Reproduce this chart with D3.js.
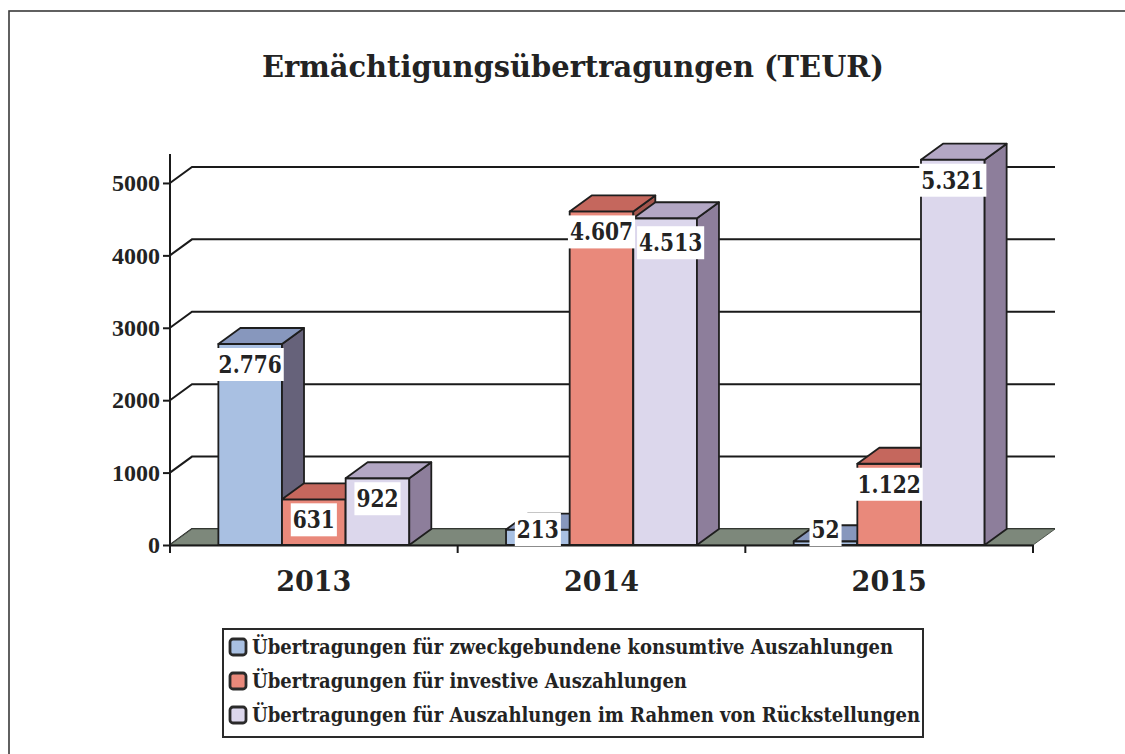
<!DOCTYPE html>
<html>
<head>
<meta charset="utf-8">
<script src="https://cdn.jsdelivr.net/npm/d3@7/dist/d3.min.js"></script>
<style>
  body { margin: 0; background: #fff; }
  text { fill: #232323; }
</style>
</head>
<body>
<svg id="chart" width="1125" height="754"></svg>
<script>
var years = ["2013", "2014", "2015"];
var seriesNames = [
  "Übertragungen für zweckgebundene konsumtive Auszahlungen",
  "Übertragungen für investive Auszahlungen",
  "Übertragungen für Auszahlungen im Rahmen von Rückstellungen"
];
var consumptive = [2776, 213, 52];
var investive = [631, 4607, 1122];
var provisions = [922, 4513, 5321];
var yTicks = [0, 1000, 2000, 3000, 4000, 5000];

// front, top, side
var colors = [
  ["#a9c0e2", "#8797bd", "#66627a"],
  ["#e9897b", "#c5675d", "#a4554d"],
  ["#dcd7ec", "#b3a7c4", "#8d7e9b"]
];

var series = [consumptive, investive, provisions];
var de = d3.formatLocale({ decimal: ",", thousands: ".", grouping: [3], currency: ["", " €"] });
var fmt = de.format(",");

var svg = d3.select("#chart");
var serif = "'DejaVu Serif', serif";
var dx = 22, dy = 16;

var x0 = d3.scaleBand().domain(years).range([170, 1033]);
var x1 = d3.scaleBand().domain(d3.range(series.length)).range([0, x0.bandwidth()]).paddingOuter(0.76);
var y = d3.scaleLinear().domain([0, 5400]).range([545, 154]);
var y0 = y(0);
var xLeft = x0.range()[0], xRight = x0.range()[1];

function poly(pts) {
  return "M" + pts.map(function (p) { return p[0] + "," + p[1]; }).join("L") + "Z";
}

// outer frame, cut by the page edge like the scan
svg.append("rect")
  .attr("x", 9).attr("y", 11).attr("width", 1200).attr("height", 900)
  .attr("fill", "none").attr("stroke", "#3a3a3a").attr("stroke-width", 1.6);

var title = svg.append("text")
  .attr("x", 573).attr("y", 77)
  .attr("text-anchor", "middle")
  .style("font-family", serif).style("font-weight", "bold").style("font-size", "29px")
  .text("Ermächtigungsübertragungen (TEUR)");
title.attr("textLength", 622).attr("lengthAdjust", "spacingAndGlyphs");

// back wall grid with the diagonal tick connectors
var grid = svg.append("g").attr("stroke", "#1a1a1a").attr("stroke-width", 2).attr("fill", "none");
yTicks.forEach(function (v) {
  grid.append("path").attr("d", "M" + xLeft + "," + y(v) + "L" + (xLeft + dx) + "," + (y(v) - dy)
    + "L" + (xRight + dx) + "," + (y(v) - dy));
});

// floor
svg.append("path")
  .attr("d", poly([[xLeft, y0], [xRight, y0], [xRight + dx, y0 - dy], [xLeft + dx, y0 - dy]]))
  .attr("fill", "#7d887b").attr("stroke", "#4d544b").attr("stroke-width", 1);

// y axis
var yAxis = svg.append("g")
  .attr("transform", "translate(" + xLeft + ",0)")
  .call(d3.axisLeft(y).tickValues(yTicks).tickFormat(d3.format("d")).tickSize(7).tickPadding(3).tickSizeOuter(0));
yAxis.select(".domain").remove();
yAxis.selectAll("line").attr("stroke", "#1a1a1a").attr("stroke-width", 2);
yAxis.selectAll("text")
  .style("font-family", "'Liberation Serif', serif").style("font-weight", "bold").style("font-size", "24px")
  .attr("fill", "#232323");

svg.append("line")
  .attr("x1", xLeft).attr("x2", xLeft).attr("y1", y.range()[1]).attr("y2", y0 + 8)
  .attr("stroke", "#1a1a1a").attr("stroke-width", 2);

// x axis line with ticks on the category borders
var xAxis = svg.append("g")
  .attr("transform", "translate(0," + y0 + ")")
  .call(d3.axisBottom(x0).tickSize(0).tickPadding(27));
xAxis.select(".domain").attr("stroke", "#1a1a1a").attr("stroke-width", 2);
xAxis.selectAll("text")
  .style("font-family", serif).style("font-weight", "bold").style("font-size", "27px")
  .attr("fill", "#232323");
xAxis.selectAll(".border").data(years.map(x0).concat([xRight]))
  .enter().append("line").attr("class", "border")
  .attr("x1", function (d) { return d; }).attr("x2", function (d) { return d; })
  .attr("y1", 0).attr("y2", 8)
  .attr("stroke", "#1a1a1a").attr("stroke-width", 2);

// 3d bars, left to right so each front hides the previous side
var bars = svg.append("g").attr("stroke", "#1e1e1e").attr("stroke-width", 1.8).attr("stroke-linejoin", "round");
var labels = [];
years.forEach(function (yr, i) {
  series.forEach(function (vals, s) {
    var x = x0(yr) + x1(s), w = x1.bandwidth(), top = y(vals[i]);
    bars.append("path").attr("d", poly([[x, top], [x + w, top], [x + w, y0], [x, y0]])).attr("fill", colors[s][0]);
    bars.append("path").attr("d", poly([[x + w, top], [x + w + dx, top - dy], [x + w + dx, y0 - dy], [x + w, y0]])).attr("fill", colors[s][2]);
    bars.append("path").attr("d", poly([[x, top], [x + w, top], [x + w + dx, top - dy], [x + dx, top - dy]])).attr("fill", colors[s][1]);
    labels.push({ x: x + w / 2, y: Math.min(top + 20, y0 - 16), text: fmt(vals[i]), group: i });
  });
});

// value labels on white boxes, nudged right when they would touch the neighbour
var prev = null;
labels.forEach(function (d) {
  var g = svg.append("g");
  var box = g.append("rect").attr("fill", "#fff");
  var t = g.append("text")
    .attr("y", d.y).attr("dy", "0.37em")
    .attr("text-anchor", "middle")
    .style("font-family", serif).style("font-weight", "bold").style("font-size", "24px")
    .text(d.text);
  var len = t.node().getComputedTextLength() * 0.84;
  var bx = d.x - len / 2 - 2, bw = len + 4, by = d.y - 16, bh = 33;
  if (prev && prev.group == d.group && bx < prev.x2 + 2 && Math.abs(by - prev.y) < bh) {
    bx = prev.x2 + 2;
    by += 4;
  }
  t.attr("x", bx + bw / 2).attr("y", by + 16).attr("textLength", len).attr("lengthAdjust", "spacingAndGlyphs");
  box.attr("x", bx).attr("y", by).attr("width", bw).attr("height", bh);
  prev = { group: d.group, x2: bx + bw, y: by };
});

// legend
var legend = svg.append("g");
legend.append("rect")
  .attr("x", 223).attr("y", 629).attr("width", 700).attr("height", 108)
  .attr("fill", "#fff").attr("stroke", "#2a2a2a").attr("stroke-width", 2);
var items = legend.selectAll(".item").data(seriesNames).enter().append("g")
  .attr("class", "item")
  .attr("transform", function (d, i) { return "translate(229," + (647 + i * 34) + ")"; });
items.append("rect")
  .attr("x", 1).attr("y", -8).attr("width", 16).attr("height", 16).attr("rx", 3)
  .attr("fill", function (d, i) { return colors[i][0]; })
  .attr("stroke", "#2a2a2a").attr("stroke-width", 2.8);
var legendTexts = items.append("text")
  .attr("x", 23).attr("y", 7)
  .style("font-family", serif).style("font-weight", "bold").style("font-size", "21px")
  .text(function (d) { return d; });
var k = 641 / legendTexts.nodes()[0].getComputedTextLength();
legendTexts.each(function () {
  d3.select(this).attr("textLength", this.getComputedTextLength() * k).attr("lengthAdjust", "spacingAndGlyphs");
});
</script>
</body>
</html>
